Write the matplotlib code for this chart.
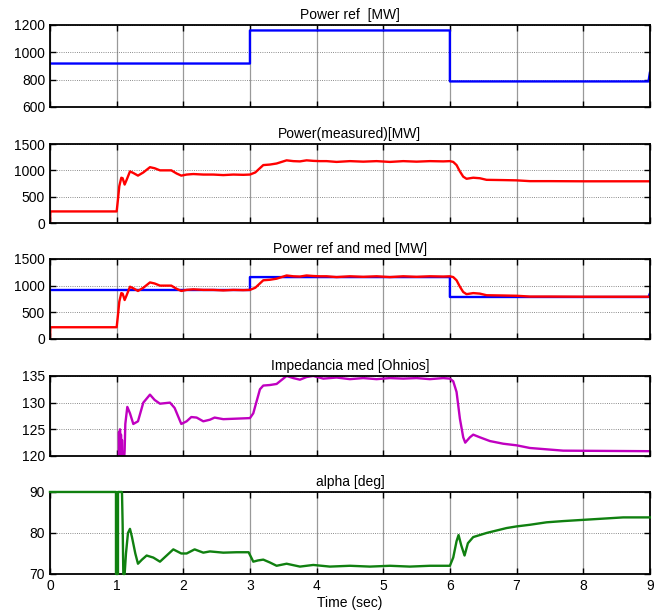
import matplotlib.pyplot as plt

plt.rcParams['font.family'] = ['Liberation Sans', 'DejaVu Sans']

# Power reference [MW]
pref_t = [0, 3.0, 3.0, 6.0, 6.0, 8.98, 9.0]
pref_v = [918, 918, 1160, 1160, 787, 787, 850]

# Power measured [MW]
pm_t = [0, 0.005, 1.0, 1.02, 1.04, 1.07, 1.09, 1.12, 1.15, 1.2, 1.25, 1.32, 1.4, 1.5,
        1.57, 1.65, 1.75, 1.82, 1.9, 1.97, 2.05, 2.15, 2.3, 2.45, 2.6, 2.75, 2.9, 3.0,
        3.08, 3.2, 3.3, 3.4, 3.5, 3.55, 3.65, 3.75, 3.85, 3.95, 4.05, 4.15, 4.3, 4.5,
        4.7, 4.9, 5.1, 5.3, 5.5, 5.7, 5.9, 6.0, 6.05, 6.1, 6.15, 6.2, 6.25, 6.35, 6.45,
        6.55, 6.8, 7.0, 7.2, 7.5, 8.0, 9.0]
pm_v = [0, 220, 220, 450, 700, 860, 850, 730, 820, 980, 950, 900, 960, 1060,
        1040, 1000, 1000, 1000, 940, 900, 920, 930, 920, 920, 910, 920, 915, 920,
        960, 1100, 1110, 1130, 1170, 1190, 1175, 1170, 1190, 1180, 1175, 1175, 1160, 1175,
        1165, 1175, 1160, 1175, 1165, 1175, 1170, 1175, 1160, 1100, 980, 880, 840, 860, 850,
        820, 815, 810, 795, 795, 792, 792]

# Impedance [Ohm]
z_t = [1.03, 1.035, 1.045, 1.05, 1.06, 1.065, 1.075, 1.08, 1.09, 1.1, 1.12, 1.13,
       1.16, 1.2, 1.25, 1.32, 1.4, 1.5, 1.57, 1.65, 1.8, 1.87, 1.97, 2.05, 2.12, 2.2,
       2.3, 2.4, 2.47, 2.6, 2.8, 3.0, 3.05, 3.15, 3.2, 3.3, 3.4, 3.55, 3.65, 3.75, 3.85,
       3.95, 4.1, 4.3, 4.5, 4.7, 4.9, 5.1, 5.3, 5.5, 5.7, 5.9, 6.0, 6.05, 6.1, 6.15,
       6.2, 6.23, 6.3, 6.35, 6.45, 6.6, 6.8, 7.0, 7.2, 7.7, 9.0]
z_v = [115, 124.5, 116, 125, 115, 124, 115, 123, 115, 117, 121, 126,
       129.2, 128, 126, 126.5, 130, 131.5, 130.5, 129.8, 130, 129, 126, 126.5, 127.3, 127.2,
       126.5, 126.8, 127.2, 126.9, 127, 127.1, 128, 132.5, 133.2, 133.3, 133.5, 135, 134.6, 134.3, 134.8,
       135, 134.5, 134.7, 134.4, 134.6, 134.4, 134.6, 134.5, 134.6, 134.4, 134.6, 134.5, 134, 132, 127,
       123.5, 122.5, 123.5, 124, 123.5, 122.8, 122.3, 122, 121.5, 121, 120.9]

# Alpha [deg]
a_t = [0, 0.99, 0.99, 1.02, 1.02, 1.05, 1.08, 1.09, 1.1, 1.12, 1.14, 1.17, 1.2, 1.23,
       1.28, 1.32, 1.38, 1.45, 1.55, 1.65, 1.75, 1.85, 1.97, 2.05, 2.17, 2.3, 2.4, 2.6,
       2.8, 2.98, 3.02, 3.05, 3.12, 3.2, 3.3, 3.4, 3.55, 3.75, 3.95, 4.2, 4.5, 4.8, 5.1,
       5.4, 5.7, 6.0, 6.05, 6.1, 6.13, 6.17, 6.22, 6.27, 6.35, 6.45, 6.55, 6.7, 6.85, 7.0,
       7.2, 7.45, 7.7, 8.0, 8.3, 8.6, 9.0]
a_v = [90, 90, 70, 70, 90, 90, 90, 82, 70, 70, 75, 80, 81, 79,
       75, 72.5, 73.5, 74.5, 74, 73, 74.5, 76, 75, 75, 76, 75.2, 75.5, 75.2,
       75.3, 75.3, 74, 73, 73.3, 73.5, 72.8, 72, 72.5, 71.8, 72.2, 71.8, 72, 71.8, 72,
       71.8, 72, 72, 74, 78, 79.5, 77, 74.5, 77.5, 79, 79.5, 80, 80.6, 81.2, 81.6,
       82, 82.6, 82.9, 83.2, 83.5, 83.8, 83.8]

x_ticks = list(range(10))

fig = plt.figure(figsize=(6.57, 6.11), dpi=100)
boxes = [(0.0761, 0.8249, 0.913, 0.1342),
         (0.0761, 0.6350, 0.913, 0.1293),
         (0.0761, 0.4452, 0.913, 0.1310),
         (0.0761, 0.2537, 0.913, 0.1310),
         (0.0761, 0.0606, 0.913, 0.1342)]
axes = [fig.add_axes(b) for b in boxes]

axes[0].plot(pref_t, pref_v, color='blue', lw=1.7)
axes[1].plot(pm_t, pm_v, color='red', lw=1.7)
axes[2].plot(pref_t, pref_v, color='blue', lw=1.7)
axes[2].plot(pm_t, pm_v, color='red', lw=1.7)
axes[3].plot(z_t, z_v, color='#c000c0', lw=1.7)
axes[4].plot(a_t, a_v, color='#108010', lw=1.7, clip_on=False, zorder=3)

titles = ['Power ref  [MW]', 'Power(measured)[MW]', 'Power ref and med [MW]',
          'Impedancia med [Ohnios]', 'alpha [deg]']
ylims = [(600, 1200), (0, 1500), (0, 1500), (120, 135), (70, 90)]
yticks = [[600, 800, 1000, 1200], [0, 500, 1000, 1500], [0, 500, 1000, 1500],
          [120, 125, 130, 135], [70, 80, 90]]

for i, ax in enumerate(axes):
    ax.set_xlim(0, 9)
    ax.set_ylim(*ylims[i])
    ax.set_xticks(x_ticks)
    ax.set_yticks(yticks[i])
    ax.set_title(titles[i], fontsize=10, pad=4)
    ax.tick_params(direction='in', top=True, right=True, labelsize=10, length=4, width=1)
    ax.grid(True, axis='x', color='#999999', lw=0.9, ls='-')
    ax.grid(True, axis='y', color='#666666', lw=0.6, ls=':')
    for s in ax.spines.values():
        s.set_linewidth(1.3)
    if i < 4:
        ax.set_xticklabels([])

axes[4].set_xlabel('Time (sec)', fontsize=10, labelpad=2)

fig.savefig('out.png', dpi=100)
